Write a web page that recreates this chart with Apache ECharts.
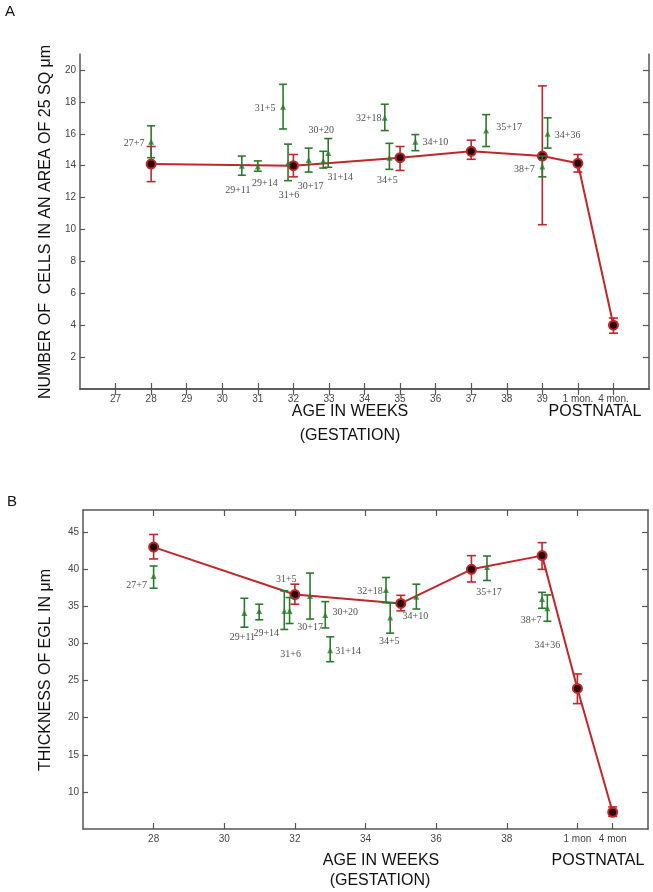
<!DOCTYPE html>
<html><head><meta charset="utf-8">
<script src="https://cdn.jsdelivr.net/npm/echarts@6/dist/echarts.min.js"></script>
<style>html,body{margin:0;padding:0;background:#fff}#c{width:653px;height:892px}</style>
</head><body><div id="c"></div>
<script>
// ---------- Panel A data ----------
const tickValuesA = [27,28,29,30,31,32,33,34,35,36,37,38,39,40,41];
const tickLabelsA = ['27','28','29','30','31','32','33','34','35','36','37','38','39','1 mon.','4 mon.'];
const yTicksA = [2,4,6,8,10,12,14,16,18,20];
const meanXA  = [28, 32, 35, 37, 39, 40, 41];
const meanA   = [14.1, 14.0, 14.5, 14.9, 14.6, 14.15, 4.0];
const meanLoA = [13.0, 13.3, 13.7, 14.4, 10.3, 13.6, 3.5];
const meanHiA = [15.2, 14.7, 15.2, 15.6, 19.0, 14.7, 4.45];
const caseNamesA = ['27+7','29+11','29+14','31+5','31+6','30+17','31+14','30+20','32+18','34+5','34+10','35+17','38+7','34+36'];
const caseXA  = [28, 30.55, 31, 31.71, 31.85, 32.43, 32.84, 32.98, 34.57, 34.7, 35.43, 37.42, 39.0, 39.15];
const caseA   = [15.5, 14.0, 13.95, 17.7, 14.15, 14.35, 14.3, 14.8, 17.0, 14.5, 15.5, 16.2, 13.95, 16.0];
const caseLoA = [14.5, 13.4, 13.65, 16.3, 13.06, 13.6, 13.85, 13.9, 16.2, 13.77, 14.94, 15.2, 13.3, 15.1];
const caseHiA = [16.5, 14.6, 14.3, 19.1, 15.35, 15.1, 14.9, 15.7, 17.85, 15.4, 15.95, 17.2, 14.6, 17.0];

// ---------- Panel B data ----------
const tickValuesB = [28,30,32,34,36,38,40,41];
const tickLabelsB = ['28','30','32','34','36','38','1 mon','4 mon'];
const topTicksB = [28,30,32,34,36,38,40];
const yTicksB = [10,15,20,25,30,35,40,45];
const meanXB  = [28, 32, 35, 37, 39, 40, 41];
const meanB   = [43.0, 36.6, 35.4, 40.0, 41.85, 23.95, 7.26];
const meanLoB = [41.4, 35.3, 34.4, 38.3, 40.0, 21.9, 6.7];
const meanHiB = [44.7, 38.0, 36.5, 41.85, 43.6, 25.9, 7.98];
const caseNamesB = ['27+7','29+11','29+14','31+5','31+6','30+17','30+20','31+14','32+18','34+5','34+10','35+17','38+7','34+36'];
const caseXB  = [28, 30.57, 30.99, 31.7, 31.85, 32.43, 32.86, 33.0, 34.58, 34.7, 35.44, 37.44, 39.0, 39.15];
const caseB   = [39.1, 34.1, 34.4, 34.4, 34.4, 36.4, 33.85, 29.1, 37.2, 33.5, 36.3, 40.3, 36.0, 34.75];
const caseLoB = [37.45, 32.2, 33.2, 31.9, 32.7, 33.3, 32.1, 27.55, 35.5, 31.4, 34.65, 38.5, 34.75, 33.0];
const caseHiB = [40.45, 36.1, 35.3, 37.1, 36.2, 39.5, 35.65, 30.9, 38.9, 35.5, 38.0, 41.8, 36.9, 36.55];

// ---------- label placement (style) ----------
const labelOffsetA = [[-17,2],[-4,25],[7,17],[-18,2],[1,32],[2,26],[17,16],[-7,-23],[-16,1],[-2,23],[20,1],[23,-3],[-18,3],[20,2]];
const labelOffsetB = [[-17,9],[-2,24],[7,22],[2,-32],[1,43],[0,31],[20,-3],[18,1],[-16,1],[-1,24],[-1,20],[2,25],[-11,21],[0,37]];

const RED = '#c0262a', GREEN = '#2b7a2b', AXIS = '#555';
const sans = 'Liberation Sans, Arial, sans-serif';

function errRender(capHalf, color, lw) {
  return function (params, api) {
    const x = api.value(0), lo = api.value(1), hi = api.value(2);
    const a = api.coord([x, lo]), b = api.coord([x, hi]);
    const style = { stroke: color, lineWidth: lw, fill: null };
    return { type: 'group', children: [
      { type: 'line', shape: { x1: a[0], y1: a[1], x2: b[0], y2: b[1] }, style },
      { type: 'line', shape: { x1: a[0]-capHalf, y1: a[1], x2: a[0]+capHalf, y2: a[1] }, style },
      { type: 'line', shape: { x1: b[0]-capHalf, y1: b[1], x2: b[0]+capHalf, y2: b[1] }, style }
    ]};
  };
}
const zip3 = (x, lo, hi) => x.map((v, i) => [v, lo[i], hi[i]]);
const zip2 = (x, y) => x.map((v, i) => [v, y[i]]);

function xAxisPair(gi, bottomVals, bottomLabels, topVals) {
  const lab = {}; bottomVals.forEach((v, i) => lab[v] = bottomLabels[i]);
  return [
    { gridIndex: gi, type: 'value', min: 26, max: 42, position: 'bottom',
      axisLine: { lineStyle: { color: AXIS, width: 1.5 } },
      axisTick: { inside: true, length: 6, customValues: bottomVals, lineStyle: { color: AXIS, width: 1.2 } },
      axisLabel: { customValues: bottomVals, formatter: v => lab[v] ?? '', color: '#444', fontSize: 10, fontFamily: sans, margin: 5 },
      splitLine: { show: false } },
    { gridIndex: gi, type: 'value', min: 26, max: 42, position: 'top',
      axisLine: { lineStyle: { color: AXIS, width: 1.5 } },
      axisTick: { inside: true, length: 6, customValues: topVals, lineStyle: { color: AXIS, width: 1.2 } },
      axisLabel: { show: false }, splitLine: { show: false } }
  ];
}
function yAxisPair(gi, min, max, vals) {
  return [
    { gridIndex: gi, type: 'value', min, max, position: 'left',
      axisLine: { show: true, lineStyle: { color: AXIS, width: 1.5 } },
      axisTick: { show: true, inside: true, length: 5, customValues: vals, lineStyle: { color: AXIS, width: 1.2 } },
      axisLabel: { customValues: vals, color: '#444', fontSize: 10, fontFamily: sans, margin: 4 },
      splitLine: { show: false } },
    { gridIndex: gi, type: 'value', min, max, position: 'right',
      axisLine: { show: true, lineStyle: { color: AXIS, width: 1.5 } },
      axisTick: { show: true, inside: true, length: 6, customValues: vals, lineStyle: { color: AXIS, width: 1.2 } },
      axisLabel: { show: false }, splitLine: { show: false } }
  ];
}

function panelSeries(xi, yi, mx, m, mlo, mhi, cx, c, clo, chi, names, offsets) {
  return [
    { type: 'custom', xAxisIndex: xi, yAxisIndex: yi, renderItem: errRender(4.5, RED, 1.6),
      encode: { x: 0, y: [1, 2] }, data: zip3(mx, mlo, mhi), clip: false, z: 2 },
    { type: 'line', xAxisIndex: xi, yAxisIndex: yi, data: zip2(mx, m), symbol: 'circle', symbolSize: 9,
      lineStyle: { color: RED, width: 2 },
      itemStyle: { color: '#2a0606', borderColor: RED, borderWidth: 2 }, z: 3, animation: false },
    { type: 'custom', xAxisIndex: xi, yAxisIndex: yi, renderItem: errRender(4, GREEN, 1.6),
      encode: { x: 0, y: [1, 2] }, data: zip3(cx, clo, chi), clip: false, z: 4 },
    { type: 'scatter', xAxisIndex: xi, yAxisIndex: yi, symbol: 'triangle', symbolSize: 6,
      itemStyle: { color: GREEN }, z: 5,
      data: cx.map((v, i) => ({ value: [v, c[i]], name: names[i],
        label: { show: true, position: 'inside', offset: offsets[i], formatter: names[i],
          color: '#222', fontSize: 10, fontFamily: 'Liberation Serif, Times New Roman, serif' } })) }
  ];
}

const chart = echarts.init(document.getElementById('c'), null, { renderer: 'canvas' });
const title = (text, x, y, size, rot) => ({ type: 'text', x, y, rotation: rot || 0,
  style: { text, x: 0, y: 0, align: 'center', verticalAlign: 'middle', font: `${size}px ${sans}`, fill: '#111' } });

chart.setOption({
  animation: false,
  grid: [
    { left: 80, top: 54, width: 569, height: 335 },
    { left: 83, top: 510, width: 565, height: 319 }
  ],
  xAxis: [...xAxisPair(0, tickValuesA, tickLabelsA, tickValuesA), ...xAxisPair(1, tickValuesB, tickLabelsB, topTicksB)],
  yAxis: [...yAxisPair(0, 0, 21, yTicksA), ...yAxisPair(1, 5, 48, yTicksB)],
  series: [
    ...panelSeries(0, 0, meanXA, meanA, meanLoA, meanHiA, caseXA, caseA, caseLoA, caseHiA, caseNamesA, labelOffsetA),
    ...panelSeries(2, 2, meanXB, meanB, meanLoB, meanHiB, caseXB, caseB, caseLoB, caseHiB, caseNamesB, labelOffsetB)
  ],
  graphic: [
    title('A', 10, 12, 15),
    title('NUMBER OF  CELLS IN AN AREA OF 25 SQ μm', 46, 222, 16, Math.PI / 2),
    title('AGE IN WEEKS', 350, 412, 16),
    title('(GESTATION)', 350, 436, 16),
    title('POSTNATAL', 595, 412, 16),
    title('B', 12, 502, 15),
    title('THICKNESS OF EGL IN μm', 46, 670, 16, Math.PI / 2),
    title('AGE IN WEEKS', 381, 861, 16),
    title('(GESTATION)', 380, 881, 16),
    title('POSTNATAL', 598, 861, 16)
  ]
});
</script></body></html>
